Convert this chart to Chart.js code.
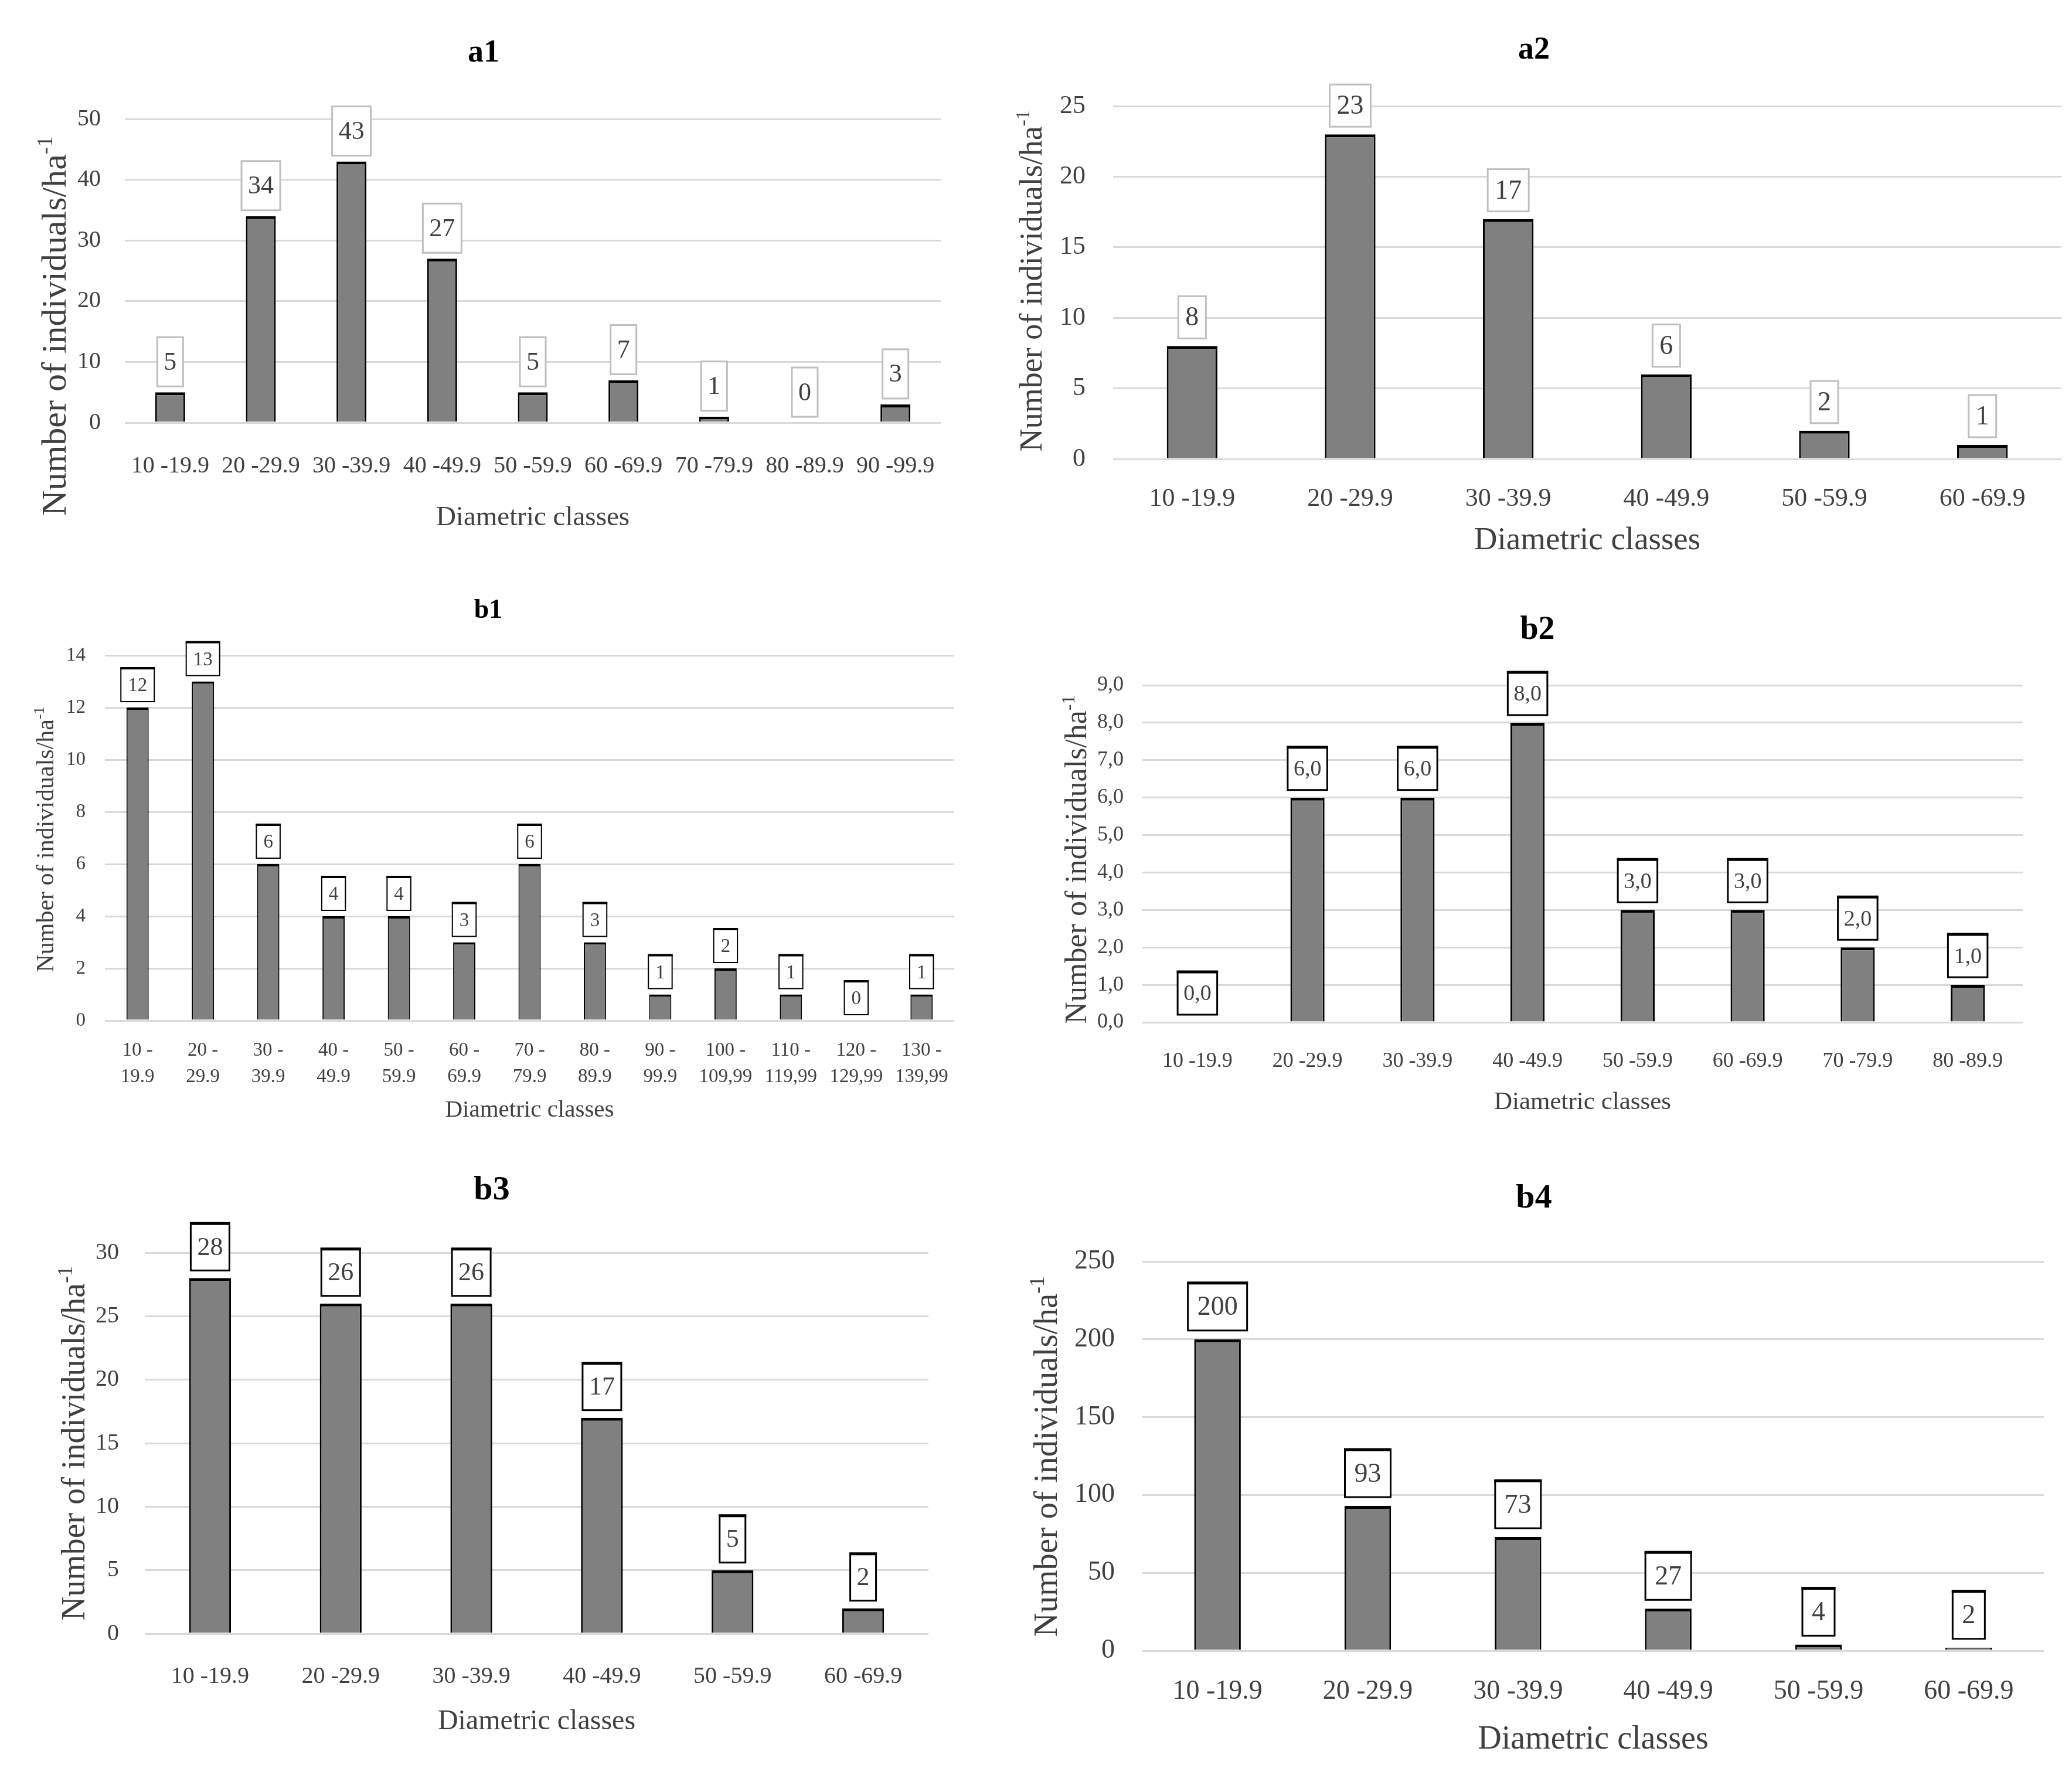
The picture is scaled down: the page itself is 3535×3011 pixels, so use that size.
<!DOCTYPE html>
<html>
<head>
<meta charset="utf-8">
<title>Diametric classes</title>
<script src="https://cdn.jsdelivr.net/npm/chart.js@4.4.0/dist/chart.umd.min.js"></script>
<style>
    html, body { margin: 0; padding: 0; background: #fff; }
    body { width: 3535px; height: 3011px; position: relative; overflow: hidden; }
    .panel { position: absolute; }
    .panel canvas { display: block; }
</style>
</head>
<body>
<div class="panel" id="p-a1"><canvas id="a1"></canvas></div>
<div class="panel" id="p-a2"><canvas id="a2"></canvas></div>
<div class="panel" id="p-b1"><canvas id="b1"></canvas></div>
<div class="panel" id="p-b2"><canvas id="b2"></canvas></div>
<div class="panel" id="p-b3"><canvas id="b3"></canvas></div>
<div class="panel" id="p-b4"><canvas id="b4"></canvas></div>
<script>
// Data
const a1Classes = ['10 -19.9', '20 -29.9', '30 -39.9', '40 -49.9', '50 -59.9', '60 -69.9', '70 -79.9', '80 -89.9', '90 -99.9'];
const a1Values = [5, 34, 43, 27, 5, 7, 1, 0, 3];
const a1Ticks = [0, 10, 20, 30, 40, 50];

const a2Classes = ['10 -19.9', '20 -29.9', '30 -39.9', '40 -49.9', '50 -59.9', '60 -69.9'];
const a2Values = [8, 23, 17, 6, 2, 1];
const a2Ticks = [0, 5, 10, 15, 20, 25];

const b1Classes = [['10 -', '19.9'], ['20 -', '29.9'], ['30 -', '39.9'], ['40 -', '49.9'], ['50 -', '59.9'],
    ['60 -', '69.9'], ['70 -', '79.9'], ['80 -', '89.9'], ['90 -', '99.9'], ['100 -', '109,99'],
    ['110 -', '119,99'], ['120 -', '129,99'], ['130 -', '139,99']];
const b1Values = [12, 13, 6, 4, 4, 3, 6, 3, 1, 2, 1, 0, 1];
const b1Ticks = [0, 2, 4, 6, 8, 10, 12, 14];

const b2Classes = ['10 -19.9', '20 -29.9', '30 -39.9', '40 -49.9', '50 -59.9', '60 -69.9', '70 -79.9', '80 -89.9'];
const b2Values = [0, 6, 6, 8, 3, 3, 2, 1];
const b2Ticks = [0, 1, 2, 3, 4, 5, 6, 7, 8, 9];

const b3Classes = ['10 -19.9', '20 -29.9', '30 -39.9', '40 -49.9', '50 -59.9', '60 -69.9'];
const b3Values = [28, 26, 26, 17, 5, 2];
const b3Ticks = [0, 5, 10, 15, 20, 25, 30];

const b4Classes = ['10 -19.9', '20 -29.9', '30 -39.9', '40 -49.9', '50 -59.9', '60 -69.9'];
const b4Values = [200, 93, 73, 27, 4, 2];
const b4Ticks = [0, 50, 100, 150, 200, 250];

const xTitle = 'Diametric classes';
const yTitle = 'Number of individuals/ha';
const yTitleSup = '-1';

const FONT = '"Liberation Serif", "Times New Roman", serif';
const TEXT = '#404040';

function fmt(v, decimals) {
    return decimals ? v.toFixed(decimals).replace('.', ',') : String(v);
}

// white value boxes above each bar
const boxLabels = {
    id: 'boxLabels',
    afterDatasetsDraw(chart, args, o) {
        const ctx = chart.ctx;
        const values = chart.data.datasets[0].data;
        ctx.save();
        ctx.font = o.size + 'px ' + FONT;
        ctx.textAlign = 'center';
        ctx.textBaseline = 'middle';
        chart.getDatasetMeta(0).data.forEach(function(bar, i) {
            const txt = fmt(values[i], o.decimals);
            const w = ctx.measureText(txt).width + 2 * o.padX;
            const top = bar.y - o.gap - o.height;
            const left = bar.x - w / 2;
            ctx.fillStyle = '#fff';
            ctx.fillRect(left, top, w, o.height);
            ctx.strokeStyle = o.border;
            ctx.lineWidth = o.lineWidth;
            ctx.strokeRect(left, top, w, o.height);
            if (o.topLine) {
                ctx.lineWidth = o.topLine;
                ctx.beginPath();
                ctx.moveTo(left - o.lineWidth / 2, top);
                ctx.lineTo(left + w + o.lineWidth / 2, top);
                ctx.stroke();
            }
            ctx.fillStyle = TEXT;
            ctx.fillText(txt, bar.x, top + o.height / 2 + 2);
        });
        ctx.restore();
    }
};

// rotated y title with a real superscript
const sideTitle = {
    id: 'sideTitle',
    afterDraw(chart, args, o) {
        const ctx = chart.ctx;
        const supSize = Math.round(o.size * 0.62);
        ctx.save();
        ctx.font = o.size + 'px ' + FONT;
        const w1 = ctx.measureText(yTitle).width;
        ctx.font = supSize + 'px ' + FONT;
        const w2 = ctx.measureText(yTitleSup).width;
        ctx.translate(o.x, o.y);
        ctx.rotate(-Math.PI / 2);
        ctx.fillStyle = TEXT;
        ctx.textAlign = 'left';
        ctx.textBaseline = 'alphabetic';
        const start = -(w1 + w2) / 2;
        const base = o.size * 0.33;
        ctx.font = o.size + 'px ' + FONT;
        ctx.fillText(yTitle, start, base);
        ctx.font = supSize + 'px ' + FONT;
        ctx.fillText(yTitleSup, start + w1, base - o.size * 0.38);
        ctx.restore();
    }
};

Chart.register(boxLabels, sideTitle);

function drawPanel(id, classes, values, ticks, g) {
    const wrap = document.getElementById('p-' + id);
    wrap.style.left = g.left + 'px';
    wrap.style.top = g.top + 'px';
    const canvas = document.getElementById(id);
    canvas.width = g.width;
    canvas.height = g.height;
    canvas.style.width = g.width + 'px';
    canvas.style.height = g.height + 'px';

    const padRight = g.left + g.width - g.plotR;
    const padLeft = 2 * (g.titleX - g.left) - g.width + padRight;
    const titleLH = g.titleSize * 1.2;
    const xTitleLH = g.xTitleSize * 1.2;
    const tickLine = g.tickLine || 1.2;
    const tickLH = g.tickSize * tickLine;

    return new Chart(canvas, {
        type: 'bar',
        data: {
            labels: classes,
            datasets: [{
                data: values,
                backgroundColor: '#808080',
                borderColor: '#000',
                borderWidth: { top: g.barTop, left: g.barSide, right: g.barSide, bottom: 0 },
                barPercentage: g.barPct,
                categoryPercentage: 1
            }]
        },
        options: {
            responsive: false,
            animation: false,
            devicePixelRatio: 1,
            layout: { padding: { left: padLeft, right: padRight, top: 0, bottom: 0 } },
            plugins: {
                legend: { display: false },
                tooltip: { enabled: false },
                title: {
                    display: true,
                    text: id,
                    color: '#000',
                    font: { family: FONT, size: g.titleSize, weight: 'bold', lineHeight: 1.2 },
                    padding: { top: g.titleY - g.top - titleLH / 2, bottom: g.plotT - g.titleY - titleLH / 2 }
                },
                boxLabels: Object.assign({ decimals: g.decimals || 0 }, g.label),
                sideTitle: { x: g.yTitleX - g.left, y: g.yTitleY - g.top, size: g.yTitleSize }
            },
            scales: {
                x: {
                    grid: { display: false },
                    border: { display: false },
                    ticks: {
                        color: TEXT,
                        font: { family: FONT, size: g.tickSize, lineHeight: tickLine },
                        padding: g.xTickY - g.plotB - tickLH / 2,
                        maxRotation: 0,
                        minRotation: 0,
                        autoSkip: false
                    },
                    title: {
                        display: true,
                        text: xTitle,
                        color: TEXT,
                        font: { family: FONT, size: g.xTitleSize, lineHeight: 1.2 },
                        padding: { top: 0, bottom: g.top + g.height - g.xTitleY - xTitleLH / 2 }
                    },
                    afterFit: function(s) { s.height = g.top + g.height - g.plotB; }
                },
                y: {
                    min: ticks[0],
                    max: ticks[ticks.length - 1],
                    afterBuildTicks: function(s) { s.ticks = ticks.map(function(v) { return { value: v }; }); },
                    grid: { color: '#d9d9d9', lineWidth: 3, drawTicks: false },
                    border: { display: false },
                    ticks: {
                        color: TEXT,
                        font: { family: FONT, size: g.tickSize },
                        padding: g.plotL - g.yTickR,
                        callback: function(v) { return fmt(v, g.decimals); }
                    },
                    afterFit: function(s) { s.width = g.plotL - g.left - padLeft; }
                }
            }
        }
    });
}

drawPanel('a1', a1Classes, a1Values, a1Ticks, {
    left: 0, top: 0, width: 1700, height: 975,
    titleX: 825, titleY: 91, titleSize: 54,
    plotL: 213, plotR: 1605, plotT: 203, plotB: 721,
    yTickR: 172, tickSize: 40, xTickY: 787, xTitleY: 884, xTitleSize: 47,
    yTitleX: 92, yTitleY: 556, yTitleSize: 60,
    barPct: 0.33, barTop: 5, barSide: 3,
    label: { size: 44, padX: 11, height: 84, gap: 10, border: '#bfbfbf', lineWidth: 3 }
});

drawPanel('a2', a2Classes, a2Values, a2Ticks, {
    left: 1700, top: 0, width: 1835, height: 975,
    titleX: 2617, titleY: 86, titleSize: 54,
    plotL: 1899, plotR: 3517, plotT: 181, plotB: 783,
    yTickR: 1852, tickSize: 44, xTickY: 843, xTitleY: 923, xTitleSize: 55,
    yTitleX: 1759, yTitleY: 479, yTitleSize: 54,
    barPct: 0.32, barTop: 5, barSide: 3,
    label: { size: 46, padX: 12, height: 72, gap: 13, border: '#bfbfbf', lineWidth: 3 }
});

drawPanel('b1', b1Classes, b1Values, b1Ticks, {
    left: 0, top: 975, width: 1700, height: 1000,
    titleX: 833, titleY: 1042, titleSize: 46,
    plotL: 179, plotR: 1628, plotT: 1118, plotB: 1741,
    yTickR: 146, tickSize: 33, tickLine: 1.36, xTickY: 1784, xTitleY: 1894, xTitleSize: 41,
    yTitleX: 77, yTitleY: 1432, yTitleSize: 42,
    barPct: 0.34, barTop: 4, barSide: 2,
    label: { size: 33, padX: 12, height: 57, gap: 10, border: '#000', lineWidth: 2, topLine: 4 }
});

drawPanel('b2', b2Classes, b2Values, b2Ticks, {
    left: 1700, top: 975, width: 1835, height: 1000,
    titleX: 2623, titleY: 1076, titleSize: 56,
    plotL: 1949, plotR: 3451, plotT: 1169, plotB: 1744,
    yTickR: 1917, tickSize: 36, xTickY: 1803, xTitleY: 1881, xTitleSize: 43,
    yTitleX: 1836, yTitleY: 1466, yTitleSize: 52,
    decimals: 1,
    barPct: 0.31, barTop: 5, barSide: 3,
    label: { size: 38, padX: 10, height: 73, gap: 13, border: '#000', lineWidth: 3, topLine: 5 }
});

drawPanel('b3', b3Classes, b3Values, b3Ticks, {
    left: 0, top: 1975, width: 1700, height: 1036,
    titleX: 839, titleY: 2031, titleSize: 58,
    plotL: 247, plotR: 1584, plotT: 2137, plotB: 2787,
    yTickR: 203, tickSize: 40, xTickY: 2852, xTitleY: 2937, xTitleSize: 48,
    yTitleX: 126, yTitleY: 2462, yTitleSize: 56,
    barPct: 0.32, barTop: 5, barSide: 3,
    label: { size: 44, padX: 11, height: 80, gap: 13, border: '#000', lineWidth: 3, topLine: 5 }
});

drawPanel('b4', b4Classes, b4Values, b4Ticks, {
    left: 1700, top: 1975, width: 1835, height: 1036,
    titleX: 2617, titleY: 2045, titleSize: 58,
    plotL: 1949, plotR: 3487, plotT: 2152, plotB: 2816,
    yTickR: 1902, tickSize: 46, xTickY: 2878, xTitleY: 2968, xTitleSize: 56,
    yTitleX: 1784, yTitleY: 2485, yTitleSize: 57,
    barPct: 0.31, barTop: 5, barSide: 3,
    label: { size: 46, padX: 16, height: 81, gap: 15, border: '#000', lineWidth: 3, topLine: 5 }
});
</script>
</body>
</html>
